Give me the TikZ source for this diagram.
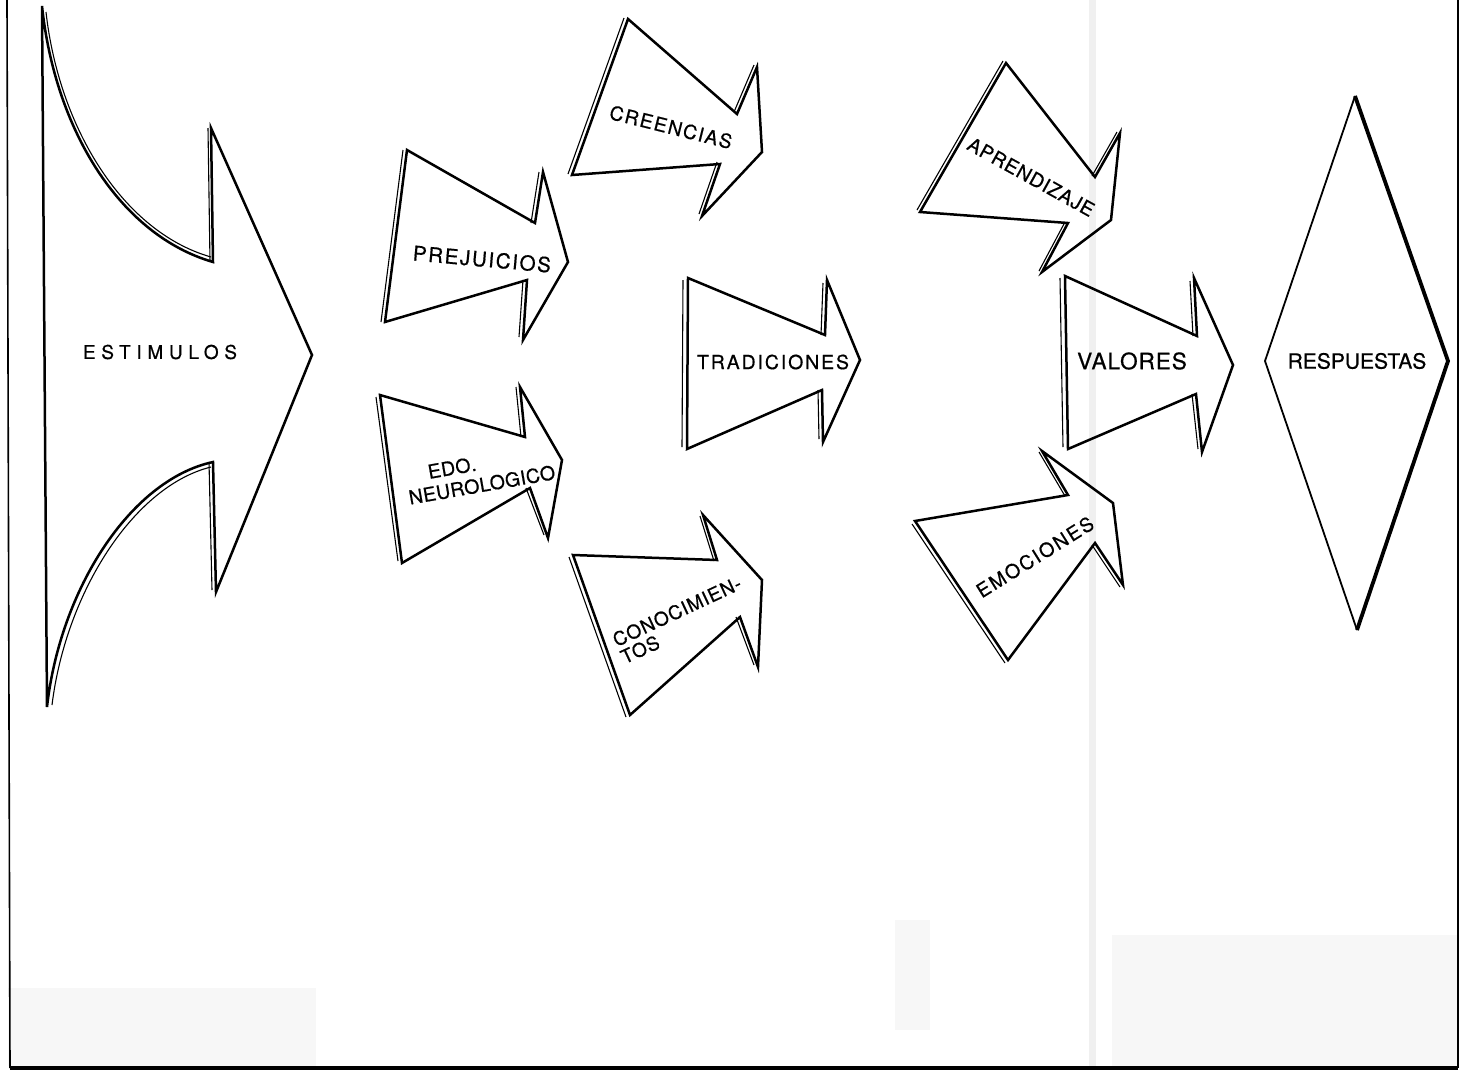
\documentclass[tikz,border=0pt]{standalone}
\usepackage{fontspec}
\newfontfamily\lblfont[FakeBold=0.6]{TeX Gyre Heros}
\newcommand\lf[3]{\lblfont\fontsize{#1}{#2}\selectfont\addfontfeature{LetterSpace=#3}}
\tikzset{
  outline/.style={draw=black, line width=1.25pt, line join=miter},
  ghost/.style={draw=black, line width=0.55pt},
  frameline/.style={draw=black, line width=0.8pt},
  lbl/.style={inner sep=0pt, text=black},
  scanmark/.style={fill=black!3, draw=none},
}
\begin{document}
\begin{tikzpicture}[x=0.5pt,y=-0.5pt]
\useasboundingbox (0,0) rectangle (1463,1072);
% faint scan artefacts
\fill[black!6] (1089,0) rectangle (1096,1068);
\fill[scanmark] (8,988) rectangle (316,1066);
\fill[scanmark] (895,920) rectangle (930,1030);
\fill[scanmark] (1112,935) rectangle (1457,1066);
% frame
\coordinate (fTL) at (7,0);
\coordinate (fBL) at (10,1068);
\coordinate (fBR) at (1458,1068);
\coordinate (fTR) at (1458,0);
\draw[frameline] (fTL) -- (fBL);
\draw[frameline] (fBR) -- (fTR);
\draw[draw=black, line width=1.8pt] (fBL) -- (fBR);

% ESTIMULOS
\coordinate (e1) at (42,6);
\coordinate (e2) at (213,262);
\coordinate (e3) at (211,128);
\coordinate (e4) at (312,355);
\coordinate (e5) at (216,592);
\coordinate (e6) at (213,462);
\coordinate (e7) at (47,707);
\draw[outline] (e1) .. controls (55,130) and (120,235) .. (e2) -- (e3) -- (e4) -- (e5) -- (e6) .. controls (130,480) and (60,590) .. (e7) -- cycle;
\draw[ghost] (46,12) .. controls (59,128) and (123,232) .. (211,257);
\draw[ghost] ([shift={(-3,0)}]e2) -- ([shift={(-3,0)}]e3);
\draw[ghost] (211,467) .. controls (134,486) and (66,592) .. (52,705);
\draw[ghost] ([shift={(-4,-2)}]e5) -- ([shift={(-4,0)}]e6);
\node[lbl, font={\lf{9.5pt}{11pt}{30}}] (tEst) at (160,352) {ESTIMULOS};

% PREJUICIOS
\coordinate (p1) at (407,150);
\coordinate (p2) at (535,223);
\coordinate (p3) at (543,172);
\coordinate (p4) at (568,262);
\coordinate (p5) at (523,340);
\coordinate (p6) at (527,280);
\coordinate (p7) at (385,322);
\draw[outline] (p1) -- (p2) -- (p3) -- (p4) -- (p5) -- (p6) -- (p7) -- cycle;
\draw[ghost] ([shift={(-4,0)}]p1) -- ([shift={(-4,0)}]p7);
\draw[ghost] ([shift={(-4,0)}]p2) -- ([shift={(-4,0)}]p3);
\draw[ghost] ([shift={(-4,-3)}]p5) -- ([shift={(-4,0)}]p6);
\node[lbl, font={\lf{10.3pt}{12pt}{8}}, rotate=-5] (tPre) at (482,259) {PREJUICIOS};

% EDO. NEUROLOGICO
\coordinate (n1) at (380,395);
\coordinate (n2) at (525,437);
\coordinate (n3) at (520,387);
\coordinate (n4) at (562,460);
\coordinate (n5) at (548,538);
\coordinate (n6) at (530,488);
\coordinate (n7) at (402,563);
\draw[outline] (n1) -- (n2) -- (n3) -- (n4) -- (n5) -- (n6) -- (n7) -- cycle;
\draw[ghost] ([shift={(-4,2)}]n1) -- ([shift={(-4,-2)}]n7);
\draw[ghost] ([shift={(-4,0)}]n2) -- ([shift={(-4,0)}]n3);
\draw[ghost] ([shift={(-4,-3)}]n5) -- ([shift={(-4,0)}]n6);
\node[lbl, font={\lf{9.7pt}{11pt}{2}}, rotate=10, align=left] (tNeu) at (480,474) {\hspace*{1.2em}EDO.\\NEUROLOGICO};

% CREENCIAS
\coordinate (c1) at (628,19);
\coordinate (c2) at (737,114);
\coordinate (c3) at (757,67);
\coordinate (c4) at (762,152);
\coordinate (c5) at (702,216);
\coordinate (c6) at (720,164);
\coordinate (c7) at (572,175);
\draw[outline] (c1) -- (c2) -- (c3) -- (c4) -- (c5) -- (c6) -- (c7) -- cycle;
\draw[ghost] ([shift={(-4,-1)}]c1) -- ([shift={(-4,-1)}]c7);
\draw[ghost] ([shift={(-3,-2)}]c2) -- ([shift={(-3,-2)}]c3);
\draw[ghost] ([shift={(-3,-2)}]c5) -- ([shift={(-3,-2)}]c6);
\node[lbl, font={\lf{9.7pt}{11pt}{8}}, rotate=-14] (tCre) at (671,127) {CREENCIAS};

% TRADICIONES
\coordinate (t1) at (688,278);
\coordinate (t2) at (825,335);
\coordinate (t3) at (827,280);
\coordinate (t4) at (860,360);
\coordinate (t5) at (823,442);
\coordinate (t6) at (822,390);
\coordinate (t7) at (687,449);
\draw[outline] (t1) -- (t2) -- (t3) -- (t4) -- (t5) -- (t6) -- (t7) -- cycle;
\draw[ghost] ([shift={(-5,2)}]t1) -- ([shift={(-5,-2)}]t7);
\draw[ghost] ([shift={(-4,0)}]t2) -- ([shift={(-4,3)}]t3);
\draw[ghost] ([shift={(-4,-3)}]t5) -- ([shift={(-4,0)}]t6);
\node[lbl, font={\lf{9.7pt}{11pt}{10}}] (tTra) at (773,362) {TRADICIONES};

% CONOCIMIENTOS
\coordinate (k1) at (573,555);
\coordinate (k2) at (717,560);
\coordinate (k3) at (703,515);
\coordinate (k4) at (762,580);
\coordinate (k5) at (758,667);
\coordinate (k6) at (740,617);
\coordinate (k7) at (630,715);
\draw[outline] (k1) -- (k2) -- (k3) -- (k4) -- (k5) -- (k6) -- (k7) -- cycle;
\draw[ghost] ([shift={(-4,2)}]k1) -- ([shift={(-4,2)}]k7);
\draw[ghost] ([shift={(-3,1)}]k2) -- ([shift={(-3,1)}]k3);
\draw[ghost] ([shift={(-4,-2)}]k5) -- ([shift={(-4,0)}]k6);
\node[lbl, font={\lf{9.5pt}{9.5pt}{5}}, rotate=25, align=left] (tCon) at (681,620) {CONOCIMIEN-\\TOS};

% APRENDIZAJE
\coordinate (a1) at (1006,63);
\coordinate (a2) at (1095,177);
\coordinate (a3) at (1120,133);
\coordinate (a4) at (1111,220);
\coordinate (a5) at (1042,272);
\coordinate (a6) at (1068,223);
\coordinate (a7) at (920,212);
\draw[outline] (a1) -- (a2) -- (a3) -- (a4) -- (a5) -- (a6) -- (a7) -- cycle;
\draw[ghost] ([shift={(-3,-2)}]a1) -- ([shift={(-3,-2)}]a7);
\draw[ghost] ([shift={(-3,-1)}]a2) -- ([shift={(-3,-1)}]a3);
\draw[ghost] ([shift={(-3,-1)}]a5) -- ([shift={(-3,-1)}]a6);
\node[lbl, font={\lf{9.7pt}{11pt}{4}}, rotate=-29] (tApr) at (1031,177) {APRENDIZAJE};

% VALORES
\coordinate (v1) at (1065,276);
\coordinate (v2) at (1197,336);
\coordinate (v3) at (1194,278);
\coordinate (v4) at (1233,365);
\coordinate (v5) at (1202,452);
\coordinate (v6) at (1196,394);
\coordinate (v7) at (1068,449);
\draw[outline] (v1) -- (v2) -- (v3) -- (v4) -- (v5) -- (v6) -- (v7) -- cycle;
\draw[ghost] ([shift={(-5,2)}]v1) -- ([shift={(-5,-2)}]v7);
\draw[ghost] ([shift={(-4,0)}]v2) -- ([shift={(-4,3)}]v3);
\draw[ghost] ([shift={(-4,-3)}]v5) -- ([shift={(-4,0)}]v6);
\node[lbl, font={\lf{11.3pt}{13pt}{4}}] (tVal) at (1132,361) {VALORES};

% EMOCIONES
\coordinate (m1) at (915,521);
\coordinate (m2) at (1068,495);
\coordinate (m3) at (1042,451);
\coordinate (m4) at (1113,503);
\coordinate (m5) at (1123,585);
\coordinate (m6) at (1095,543);
\coordinate (m7) at (1008,660);
\draw[outline] (m1) -- (m2) -- (m3) -- (m4) -- (m5) -- (m6) -- (m7) -- cycle;
\draw[ghost] ([shift={(-3,3)}]m1) -- ([shift={(-3,3)}]m7);
\draw[ghost] ([shift={(-3,1)}]m2) -- ([shift={(-3,1)}]m3);
\draw[ghost] ([shift={(-3,2)}]m5) -- ([shift={(-3,2)}]m6);
\node[lbl, font={\lf{9.7pt}{11pt}{10}}, rotate=32] (tEmo) at (1035,557) {EMOCIONES};

% RESPUESTAS
\coordinate (r1) at (1355,96);
\coordinate (r2) at (1448,361);
\coordinate (r3) at (1357,630);
\coordinate (r4) at (1265,361);
\draw[draw=black, line width=0.9pt] (r1) -- (r4) -- (r3);
\draw[draw=black, line width=1.9pt] (r1) -- (r2) -- (r3);
\node[lbl, font={\lf{10.5pt}{12pt}{0}}] (tRes) at (1357,361) {RESPUESTAS};
\end{tikzpicture}
\end{document}
